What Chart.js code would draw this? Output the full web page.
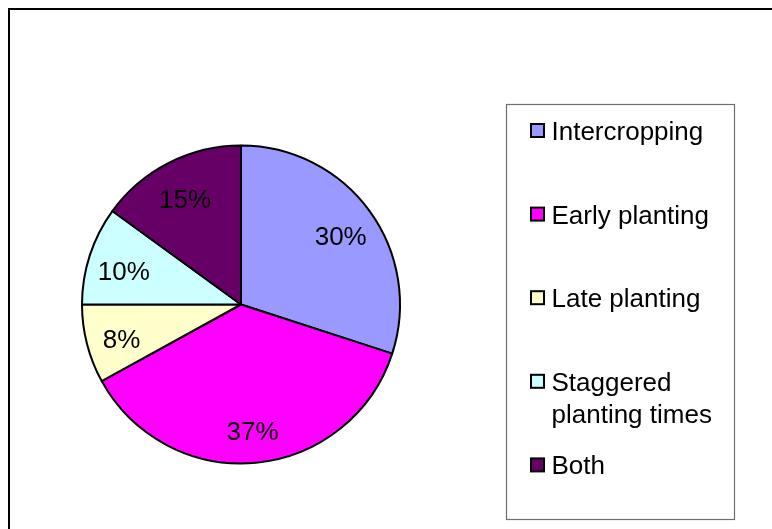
<!DOCTYPE html>
<html>
<head>
<meta charset="utf-8">
<script src="https://cdn.jsdelivr.net/npm/chart.js@4/dist/chart.umd.min.js"></script>
<style>
  html, body { margin: 0; padding: 0; background: #fff; }
  #wrap { width: 772px; height: 529px; position: relative; }
</style>
</head>
<body>
<div id="wrap"><canvas id="c" width="772" height="529"></canvas></div>
<script>
// Planting strategies (share of respondents, %)
const categories = ['Intercropping', 'Early planting', 'Late planting', 'Staggered planting times', 'Both'];
const shares = [30, 37, 8, 10, 15];
const sliceColors = ['#9999FF', '#FF00FF', '#FFFFCC', '#CCFFFF', '#660066'];

const FONT = '26px "Liberation Sans", Arial, sans-serif';

// White page with the outer frame (left and top edges visible)
const framePlugin = {
  id: 'frame',
  beforeDraw(chart) {
    const ctx = chart.ctx;
    ctx.save();
    ctx.fillStyle = '#fff';
    ctx.fillRect(0, 0, chart.width, chart.height);
    ctx.strokeStyle = '#000';
    ctx.lineWidth = 2;
    ctx.beginPath();
    ctx.moveTo(9, chart.height + 5);
    ctx.lineTo(9, 9);
    ctx.lineTo(chart.width + 5, 9);
    ctx.stroke();
    ctx.restore();
  }
};

// Percent labels inside each slice
const sliceLabels = {
  id: 'sliceLabels',
  afterDatasetsDraw(chart) {
    const ctx = chart.ctx;
    const meta = chart.getDatasetMeta(0);
    const data = chart.data.datasets[0].data;
    ctx.save();
    ctx.font = FONT;
    ctx.fillStyle = '#000';
    ctx.textAlign = 'center';
    ctx.textBaseline = 'middle';
    meta.data.forEach((arc, i) => {
      const p = arc.getProps(['x', 'y', 'startAngle', 'endAngle', 'outerRadius'], true);
      const mid = (p.startAngle + p.endAngle) / 2;
      const r = p.outerRadius * 0.775;
      ctx.fillText(data[i] + '%', p.x + Math.cos(mid) * r, p.y + Math.sin(mid) * r + 6);
    });
    ctx.restore();
  }
};

// Boxed legend on the right
const boxLegend = {
  id: 'boxLegend',
  afterDraw(chart) {
    const ctx = chart.ctx;
    const box = { x: 506.5, y: 104.5, w: 228, h: 415 };
    ctx.save();
    ctx.strokeStyle = '#6f6f6f';
    ctx.lineWidth = 1.2;
    ctx.strokeRect(box.x, box.y, box.w, box.h);

    ctx.font = FONT;
    ctx.textAlign = 'left';
    ctx.textBaseline = 'alphabetic';
    const textX = 551.5;
    const maxW = box.x + box.w - textX - 6;
    const firstY = 130.5, step = 83.6, lineH = 32;
    const labels = chart.data.labels;
    const colors = chart.data.datasets[0].backgroundColor;
    labels.forEach((label, i) => {
      const cy = firstY + i * step;
      // swatch
      ctx.fillStyle = colors[i];
      ctx.fillRect(531, cy - 6.5, 13, 13);
      ctx.strokeStyle = '#000';
      ctx.lineWidth = 2;
      ctx.strokeRect(531, cy - 6.5, 13, 13);
      // wrapped text
      const words = label.split(' ');
      const lines = [];
      let cur = '';
      words.forEach(w => {
        const t = cur ? cur + ' ' + w : w;
        if (cur && ctx.measureText(t).width > maxW) { lines.push(cur); cur = w; }
        else cur = t;
      });
      if (cur) lines.push(cur);
      ctx.fillStyle = '#000';
      lines.forEach((ln, k) => ctx.fillText(ln, textX, cy + 9.5 + k * lineH));
    });
    ctx.restore();
  }
};

new Chart(document.getElementById('c'), {
  type: 'pie',
  data: {
    labels: categories,
    datasets: [{
      data: shares,
      backgroundColor: sliceColors,
      borderColor: '#000',
      borderWidth: 2
    }]
  },
  options: {
    responsive: false,
    maintainAspectRatio: false,
    animation: false,
    radius: 159,
    layout: { padding: { left: 81, right: 371, top: 145, bottom: 65 } },
    plugins: {
      legend: { display: false },
      tooltip: { enabled: false }
    }
  },
  plugins: [framePlugin, sliceLabels, boxLegend]
});
</script>
</body>
</html>
